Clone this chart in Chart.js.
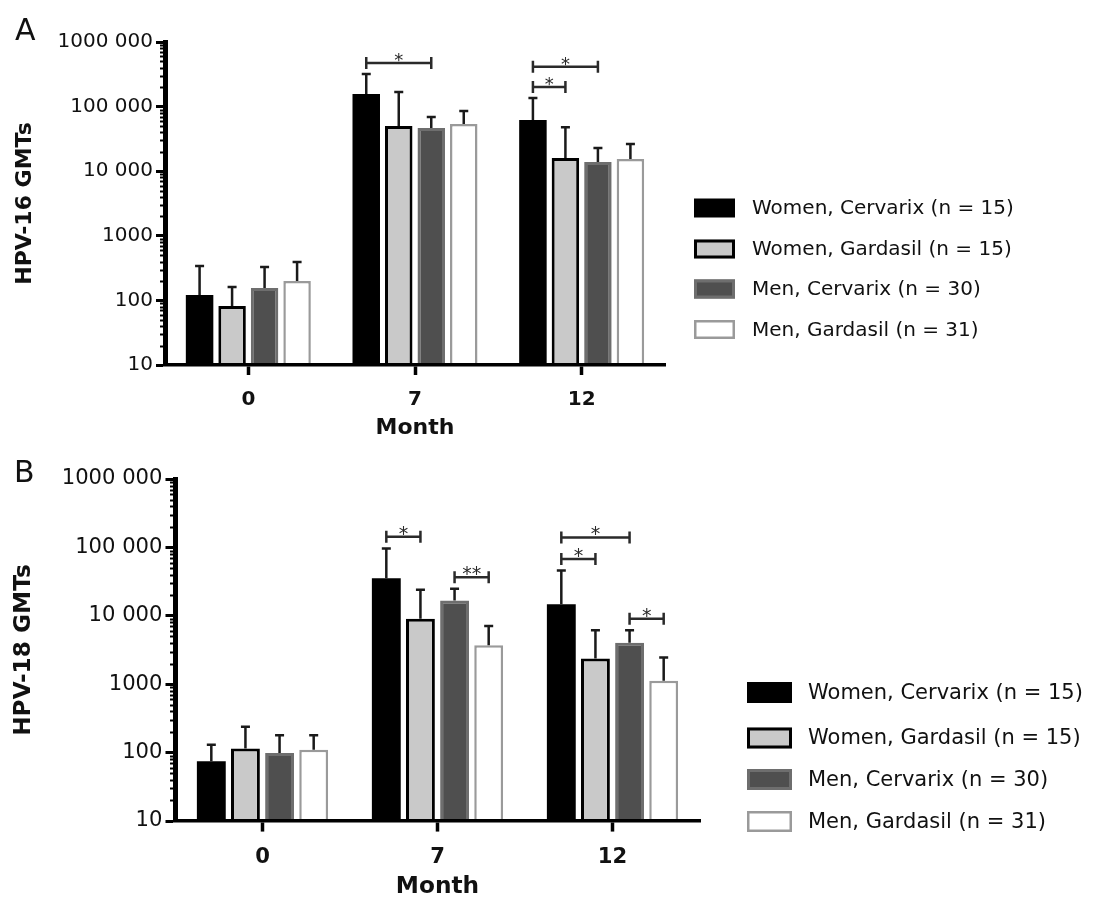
<!DOCTYPE html>
<html>
<head>
<meta charset="utf-8">
<script src="https://cdn.jsdelivr.net/npm/chart.js@4.4.1/dist/chart.umd.min.js"></script>
<style>
  html, body { margin: 0; padding: 0; background: #fff; }
  .panel { position: absolute; left: 0; width: 1095px; height: 450px; }
  #panelA { top: 0; }
  #panelB { top: 450px; }
</style>
</head>
<body>
<div class="panel" id="panelA"><canvas id="chartA" width="1095" height="450"></canvas></div>
<div class="panel" id="panelB"><canvas id="chartB" width="1095" height="450"></canvas></div>
<script>
const months = ['0', '7', '12'];
const seriesNames = [
    'Women, Cervarix (n = 15)',
    'Women, Gardasil (n = 15)',
    'Men, Cervarix (n = 30)',
    'Men, Gardasil (n = 31)'
];
const yTickValues = [10, 100, 1000, 10000, 100000, 1000000];
const yTickLabels = ['10', '100', '1000', '10 000', '100 000', '1000 000'];

// HPV-16 GMTs (panel A), bar heights and upper error bars
const hpv16WomenCervarix = [121, 157000, 62000];
const hpv16WomenGardasil = [82, 50000, 16000];
const hpv16MenCervarix = [155, 46700, 13900];
const hpv16MenGardasil = [200, 53800, 15400];
const hpv16WomenCervarixHigh = [340, 320000, 136000];
const hpv16WomenGardasilHigh = [161, 168000, 48000];
const hpv16MenCervarixHigh = [329, 69000, 22900];
const hpv16MenGardasilHigh = [393, 85500, 26400];
// [month, from series, to series, mark]
const hpv16Comparisons = [['7', 0, 2, '*'], ['12', 0, 1, '*'], ['12', 0, 2, '*']];

// HPV-18 GMTs (panel B)
const hpv18WomenCervarix = [75, 35400, 14700];
const hpv18WomenGardasil = [115, 9070, 2380];
const hpv18MenCervarix = [99, 16800, 4020];
const hpv18MenGardasil = [110, 3710, 1120];
const hpv18WomenCervarixHigh = [130, 96700, 45800];
const hpv18WomenGardasilHigh = [238, 24000, 6140];
const hpv18MenCervarixHigh = [180, 24800, 6140];
const hpv18MenGardasilHigh = [180, 7090, 2460];
const hpv18Comparisons = [['7', 0, 1, '*'], ['7', 2, 3, '**'], ['12', 0, 1, '*'], ['12', 0, 2, '*'], ['12', 2, 3, '*']];

const barStyles = [
    { fill: '#000000', border: '#000000', width: 0 },
    { fill: '#c9c9c9', border: '#000000', width: 3 },
    { fill: '#4f4f4f', border: '#6e6e6e', width: 3 },
    { fill: '#ffffff', border: '#9a9a9a', width: 2.5 }
];

Chart.defaults.font.family = "'DejaVu Sans', sans-serif";
Chart.defaults.color = '#111';

const errorBars = {
    id: 'errorBars',
    afterDatasetsDraw(chart, args, opts) {
        const ctx = chart.ctx;
        const y = chart.scales.y;
        ctx.save();
        ctx.strokeStyle = '#1a1a1a';
        ctx.lineWidth = opts.width;
        opts.highs.forEach((highs, di) => {
            chart.getDatasetMeta(di).data.forEach((bar, i) => {
                const top = y.getPixelForValue(highs[i]);
                ctx.beginPath();
                ctx.moveTo(bar.x, bar.y);
                ctx.lineTo(bar.x, top);
                ctx.moveTo(bar.x - opts.cap, top);
                ctx.lineTo(bar.x + opts.cap, top);
                ctx.stroke();
            });
        });
        ctx.restore();
    }
};

const brackets = {
    id: 'brackets',
    afterDatasetsDraw(chart, args, opts) {
        const ctx = chart.ctx;
        const y = chart.scales.y;
        ctx.save();
        ctx.strokeStyle = '#2a2a2a';
        ctx.fillStyle = '#2a2a2a';
        ctx.lineWidth = opts.width;
        ctx.font = opts.font;
        ctx.textAlign = 'center';
        ctx.textBaseline = 'alphabetic';
        opts.list.forEach((c, k) => {
            const [month, from, to, mark] = c;
            const idx = months.indexOf(month);
            let row = 0;
            opts.list.slice(0, k).forEach(p => {
                if (p[0] === month && from < p[2] && to > p[1]) row++;
            });
            let maxHigh = 0;
            for (let s = from; s <= to; s++) maxHigh = Math.max(maxHigh, opts.highs[s][idx]);
            const level = maxHigh * Math.pow(10, 0.17 + 0.315 * row);
            const py = y.getPixelForValue(level);
            const x1 = chart.getDatasetMeta(from).data[idx].x;
            const x2 = chart.getDatasetMeta(to).data[idx].x;
            ctx.beginPath();
            ctx.moveTo(x1, py); ctx.lineTo(x2, py);
            ctx.moveTo(x1, py - opts.cap); ctx.lineTo(x1, py + opts.cap);
            ctx.moveTo(x2, py - opts.cap); ctx.lineTo(x2, py + opts.cap);
            ctx.stroke();
            ctx.fillText(mark, (x1 + x2) / 2, py + 3);
        });
        ctx.restore();
    }
};

const minorTicks = {
    id: 'minorTicks',
    afterDraw(chart, args, opts) {
        const ctx = chart.ctx;
        const y = chart.scales.y;
        const left = chart.chartArea.left;
        ctx.save();
        ctx.strokeStyle = '#000';
        ctx.lineWidth = 2;
        for (let d = 10; d < 1000000; d *= 10) {
            for (let m = 2; m <= 9; m++) {
                const py = Math.round(y.getPixelForValue(m * d)) + 0.5;
                ctx.beginPath();
                ctx.moveTo(left - opts.length, py);
                ctx.lineTo(left, py);
                ctx.stroke();
            }
        }
        ctx.restore();
    }
};

const sideLegend = {
    id: 'sideLegend',
    afterDraw(chart, args, opts) {
        const ctx = chart.ctx;
        ctx.save();
        ctx.font = opts.font;
        ctx.textBaseline = 'middle';
        ctx.textAlign = 'left';
        chart.data.datasets.forEach((ds, i) => {
            const cy = opts.rows[i];
            const st = barStyles[i];
            ctx.fillStyle = st.fill;
            ctx.fillRect(opts.x, cy - opts.h / 2, opts.w, opts.h);
            if (st.width) {
                ctx.strokeStyle = st.border;
                ctx.lineWidth = st.width;
                ctx.strokeRect(opts.x + st.width / 2, cy - opts.h / 2 + st.width / 2,
                    opts.w - st.width, opts.h - st.width);
            }
            ctx.fillStyle = '#111';
            ctx.fillText(ds.label, opts.textX, cy + 1);
        });
        ctx.font = opts.letterFont;
        ctx.fillStyle = '#111';
        ctx.fillText(opts.letter, opts.letterX, opts.letterY);
        ctx.restore();
    }
};

function makePanel(canvasId, seriesValues, seriesHighs, comparisons, yTitle, geom) {
    const datasets = seriesValues.map((vals, i) => ({
        label: seriesNames[i],
        data: vals,
        backgroundColor: barStyles[i].fill,
        borderColor: barStyles[i].border,
        borderWidth: barStyles[i].width,
        categoryPercentage: 0.78,
        barPercentage: 0.846
    }));

    return new Chart(document.getElementById(canvasId), {
        type: 'bar',
        data: { labels: months, datasets: datasets },
        options: {
            responsive: false,
            animation: false,
            layout: { padding: { top: geom.top, right: 1095 - geom.right, left: 0, bottom: 0 } },
            scales: {
                x: {
                    afterFit: (scale) => { scale.height = 450 - geom.bottom; },
                    grid: {
                        drawOnChartArea: false, offset: false,
                        tickLength: geom.k * 10, tickWidth: 3.5, tickColor: '#000'
                    },
                    border: { display: true, color: '#000', width: 3.5, z: 1 },
                    ticks: {
                        color: '#111', padding: geom.k * 15,
                        font: { size: geom.k * 20, weight: 'bold', lineHeight: 1 }
                    },
                    title: {
                        display: true, text: 'Month', color: '#111',
                        font: { size: geom.k * 22, weight: 'bold', lineHeight: 1 },
                        padding: { top: 0, bottom: geom.monthPad }
                    }
                },
                y: {
                    type: 'logarithmic',
                    min: 10,
                    max: 1000000,
                    afterFit: (scale) => { scale.width = geom.left; },
                    afterBuildTicks: (scale) => {
                        scale.ticks = yTickValues.map(v => ({ value: v }));
                    },
                    grid: {
                        drawOnChartArea: false,
                        tickLength: geom.k * 9, tickWidth: 3, tickColor: '#000'
                    },
                    border: { display: true, color: '#000', width: 5, z: 1 },
                    ticks: {
                        autoSkip: false, color: '#111', padding: 3,
                        font: { size: geom.k * 20, lineHeight: 1 },
                        callback: (value) => {
                            const i = yTickValues.indexOf(value);
                            return i >= 0 ? yTickLabels[i] : '';
                        }
                    },
                    title: {
                        display: true, text: yTitle, color: '#111',
                        font: { size: geom.k * 22, weight: 'bold', lineHeight: 1 },
                        padding: { top: geom.titlePad, bottom: 0 }
                    }
                }
            },
            plugins: {
                legend: { display: false },
                tooltip: { enabled: false },
                errorBars: { highs: seriesHighs, width: 2.5, cap: 4.5 },
                brackets: {
                    list: comparisons, highs: seriesHighs, width: 2.5, cap: 6,
                    font: `${Math.round(geom.k * 18)}px 'DejaVu Sans'`
                },
                minorTicks: { length: 5 },
                sideLegend: geom.legend
            }
        },
        plugins: [errorBars, brackets, minorTicks, sideLegend]
    });
}

document.addEventListener('DOMContentLoaded', () => {
    makePanel('chartA',
        [hpv16WomenCervarix, hpv16WomenGardasil, hpv16MenCervarix, hpv16MenGardasil],
        [hpv16WomenCervarixHigh, hpv16WomenGardasilHigh, hpv16MenCervarixHigh, hpv16MenGardasilHigh],
        hpv16Comparisons, 'HPV-16 GMTs',
        {
            k: 1, left: 165, right: 665, top: 42, bottom: 365, monthPad: 11, titlePad: 14,
            legend: {
                x: 694, w: 41, h: 19, textX: 752, rows: [208, 249, 289, 329.5],
                font: "20px 'DejaVu Sans'",
                letter: 'A', letterX: 15, letterY: 32, letterFont: "30px 'DejaVu Sans'"
            }
        });

    makePanel('chartB',
        [hpv18WomenCervarix, hpv18WomenGardasil, hpv18MenCervarix, hpv18MenGardasil],
        [hpv18WomenCervarixHigh, hpv18WomenGardasilHigh, hpv18MenCervarixHigh, hpv18MenGardasilHigh],
        hpv18Comparisons, 'HPV-18 GMTs',
        {
            k: 1.057, left: 175, right: 700, top: 29, bottom: 371, monthPad: 1.5, titlePad: 12.5,
            legend: {
                x: 747, w: 45, h: 21, textX: 808, rows: [242.5, 288, 329.5, 371.5],
                font: "21px 'DejaVu Sans'",
                letter: 'B', letterX: 14, letterY: 24, letterFont: "30px 'DejaVu Sans'"
            }
        });
});
</script>
</body>
</html>
